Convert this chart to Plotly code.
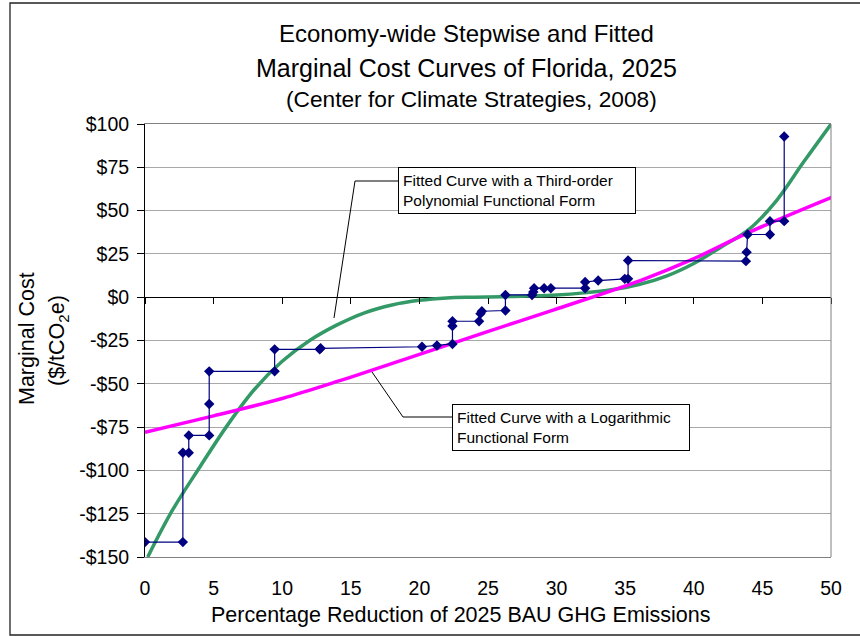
import plotly.graph_objects as go

# ---------------- data ----------------
step_x = [0.0, 2.76, 2.76, 3.19, 3.19, 4.68, 4.68, 4.68, 9.45, 9.45, 12.73, 12.8,
          20.19, 21.28, 22.41, 22.41, 22.41, 24.35, 24.45, 24.55, 26.27, 26.27,
          28.21, 28.3, 28.36, 29.09, 29.58, 32.08, 32.08, 33.03, 34.97, 35.21,
          35.21, 43.8, 43.85, 43.92, 45.55, 45.55, 46.59, 46.59]
step_y = [-141.4, -141.4, -89.8, -89.8, -79.8, -79.8, -61.7, -42.8, -42.8, -30.1, -30.1, -29.5,
          -28.6, -27.9, -27.0, -16.6, -13.9, -13.9, -9.5, -8.1, -7.7, 1.3,
          1.3, 3.0, 5.2, 5.2, 5.2, 5.2, 8.8, 9.6, 10.6, 10.6,
          21.2, 20.8, 26.0, 36.2, 36.2, 43.9, 43.9, 92.8]

poly_x = [0.2, 2, 4, 6, 8, 10, 12, 14, 16, 18, 20, 22, 24, 26, 28, 30, 32, 34, 36, 38,
          40, 42, 44, 46, 48, 50.1]
poly_y = [-150, -123, -98, -74, -53, -37, -25, -16, -9, -4.5, -1.8, -0.4, 0, 0.3, 0.7, 1.3,
          2.5, 4.3, 7.3, 12.2, 19.5, 29, 39, 55.5, 78, 101]

log_x = [0, 5, 10, 14.2, 18.8, 24.8, 29.8, 36.1, 39.8, 43.9, 50.1]
log_y = [-78, -68.5, -58.5, -48.2, -36.2, -20.3, -7.3, 9.6, 21.5, 37, 57.8]

y_ticks = [-150, -125, -100, -75, -50, -25, 0, 25, 50, 75, 100]
y_tick_labels = ["-$150", "-$125", "-$100", "-$75", "-$50", "-$25", "$0", "$25", "$50", "$75", "$100"]
x_ticks = [0, 5, 10, 15, 20, 25, 30, 35, 40, 45, 50]

title_lines = ["Economy-wide Stepwise and Fitted",
               "Marginal Cost Curves of Florida, 2025",
               "(Center for Climate Strategies, 2008)"]
x_title = "Percentage Reduction of 2025 BAU GHG Emissions"
y_title_1 = "Marginal Cost"
y_title_2 = "($/tCO<sub>2</sub>e)"
note_poly = "Fitted Curve with a Third-order<br>Polynomial Functional Form"
note_log = "Fitted Curve with a Logarithmic<br>Functional Form"

# ---------------- layout geometry (pixels) ----------------
W, H = 860, 636
L, R, T, B = 145, 831, 124, 557
FONT = "Liberation Sans, Arial, sans-serif"


def px(X):
    return (X - L) / (R - L)


def py(Y):
    return (B - Y) / (B - T)


fig = go.Figure()
fig.add_trace(go.Scatter(x=poly_x, y=poly_y, mode="lines",
                         line=dict(color="#339966", width=3.5, shape="spline"),
                         showlegend=False, hoverinfo="skip"))
fig.add_trace(go.Scatter(x=log_x, y=log_y, mode="lines",
                         line=dict(color="#FF00FF", width=3.5, shape="spline"),
                         showlegend=False, hoverinfo="skip"))
fig.add_trace(go.Scatter(x=step_x, y=step_y, mode="lines+markers",
                         line=dict(color="#000080", width=1.2),
                         marker=dict(symbol="diamond", size=8, color="#000080"),
                         showlegend=False))
# empty trace so the zero-line tick axis is drawn
fig.add_trace(go.Scatter(x=[None], y=[None], xaxis="x2", yaxis="y",
                         showlegend=False, hoverinfo="skip"))

fig.update_layout(
    width=W, height=H,
    margin=dict(l=L, r=W - R, t=T, b=H - B, pad=0),
    paper_bgcolor="white", plot_bgcolor="white",
    font=dict(family=FONT, color="black"),
    showlegend=False,
    xaxis=dict(range=[0, 50], tickvals=x_ticks, showgrid=False, zeroline=False,
               showline=True, linecolor="#808080", linewidth=1, mirror=True,
               ticks="", tickfont=dict(size=19.5, family=FONT), ticklabelstandoff=14),
    xaxis2=dict(range=[0, 50], overlaying="x", anchor="free", position=0.6, side="bottom",
                tickvals=x_ticks, showticklabels=False, ticks="outside", ticklen=6,
                tickcolor="black", showgrid=False, zeroline=False, showline=False),
    yaxis=dict(range=[-150, 100], tickvals=y_ticks, ticktext=y_tick_labels,
               showgrid=True, gridcolor="#A8A8A8", gridwidth=1,
               zeroline=True, zerolinecolor="black", zerolinewidth=1,
               showline=True, linecolor="black", linewidth=1,
               ticks="outside", ticklen=7, tickcolor="black",
               tickfont=dict(size=19.5, family=FONT), ticklabelstandoff=4),
)

shapes = [
    # right border of plot area
    dict(type="line", xref="paper", yref="paper", x0=1, x1=1, y0=0, y1=1,
         line=dict(color="#808080", width=1)),
    # outer chart frame
    dict(type="rect", xref="paper", yref="paper", x0=px(10), x1=px(875), y0=py(635), y1=py(3),
         line=dict(color="#222222", width=1.3), fillcolor="rgba(0,0,0,0)", layer="above"),
    # callout leader lines
    dict(type="path", xref="paper", yref="paper",
         path=f"M {px(398)},{py(181)} L {px(355)},{py(181)} L {px(334)},{py(318)}",
         line=dict(color="black", width=1)),
    dict(type="path", xref="paper", yref="paper",
         path=f"M {px(452)},{py(417)} L {px(403)},{py(417)} L {px(372)},{py(372)}",
         line=dict(color="black", width=1)),
]
fig.update_layout(shapes=shapes)

ann = []
for text, xc, yc, size in zip(title_lines, [466, 466, 471], [33.3, 68.3, 99.5], [24, 25, 22.7]):
    ann.append(dict(text=text, xref="paper", yref="paper", x=px(xc), y=py(yc),
                    xanchor="center", yanchor="middle", showarrow=False,
                    font=dict(size=size, family=FONT, color="black")))
ann.append(dict(text=x_title, xref="paper", yref="paper", x=px(461), y=py(615),
                xanchor="center", yanchor="middle", showarrow=False,
                font=dict(size=21.5, family=FONT, color="black")))
ann.append(dict(text=y_title_1, xref="paper", yref="paper", x=px(27), y=py(339),
                xanchor="center", yanchor="middle", showarrow=False, textangle=-90,
                font=dict(size=21.5, family=FONT, color="black")))
ann.append(dict(text=y_title_2, xref="paper", yref="paper", x=px(58), y=py(341),
                xanchor="center", yanchor="middle", showarrow=False, textangle=-90,
                font=dict(size=21.5, family=FONT, color="black")))
ann.append(dict(text=note_poly, xref="paper", yref="paper", x=px(398), y=py(167),
                xanchor="left", yanchor="top", showarrow=False, align="left",
                width=228, bordercolor="black", borderwidth=1, borderpad=4, bgcolor="white",
                font=dict(size=15.5, family=FONT, color="black")))
ann.append(dict(text=note_log, xref="paper", yref="paper", x=px(452), y=py(404),
                xanchor="left", yanchor="top", showarrow=False, align="left",
                width=228, bordercolor="black", borderwidth=1, borderpad=4, bgcolor="white",
                font=dict(size=15.5, family=FONT, color="black")))
fig.update_layout(annotations=ann)

fig.write_html("out.html")
